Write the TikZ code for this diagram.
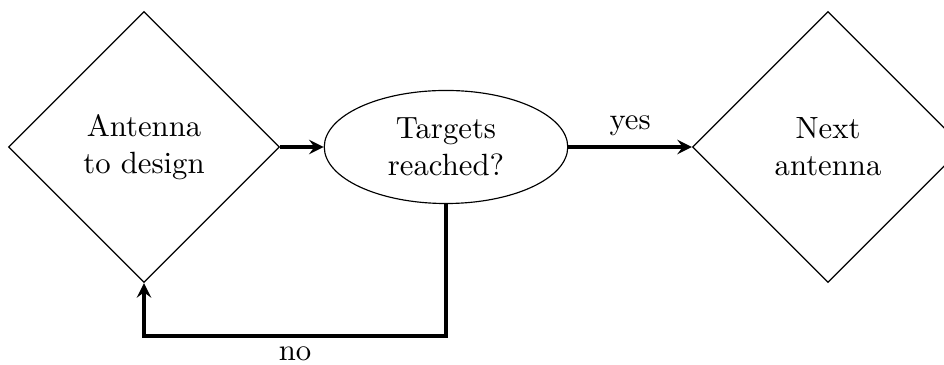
\documentclass[tikz,border=0pt]{standalone}
\usetikzlibrary{shapes.geometric}
\usetikzlibrary{arrows}

\tikzset{
  antbox/.style={draw, diamond, aspect=1, minimum size=93.5pt, inner sep=1pt, align=center},
  testbox/.style={draw, ellipse, minimum width=84pt, minimum height=39pt, align=center},
  flow/.style={very thick, -stealth}
}

\begin{document}
\begin{tikzpicture}[x=0.345pt, y=-0.345pt, font=\fontsize{10.6pt}{12.8pt}\selectfont]
  \useasboundingbox (0,0) rectangle (944,365);
  \node[antbox] (Antenna) at (144,147) {Antenna\\ to design};
  \node[testbox] (Targets) at (446,147) {Targets\\ reached?};
  \node[antbox] (Next) at (828,147) {Next\\ antenna};
  \coordinate (Loop) at (295,336);
 \draw[flow] (Antenna.east) -- (Targets.west);
 \draw[flow] (Targets.east) -- node[above] {yes} (Next.west);
 \draw[flow] (Targets.south) |- (Loop) -| (Antenna.south);
 \node[below] (No) at (Loop) {no};
\end{tikzpicture}
\end{document}
